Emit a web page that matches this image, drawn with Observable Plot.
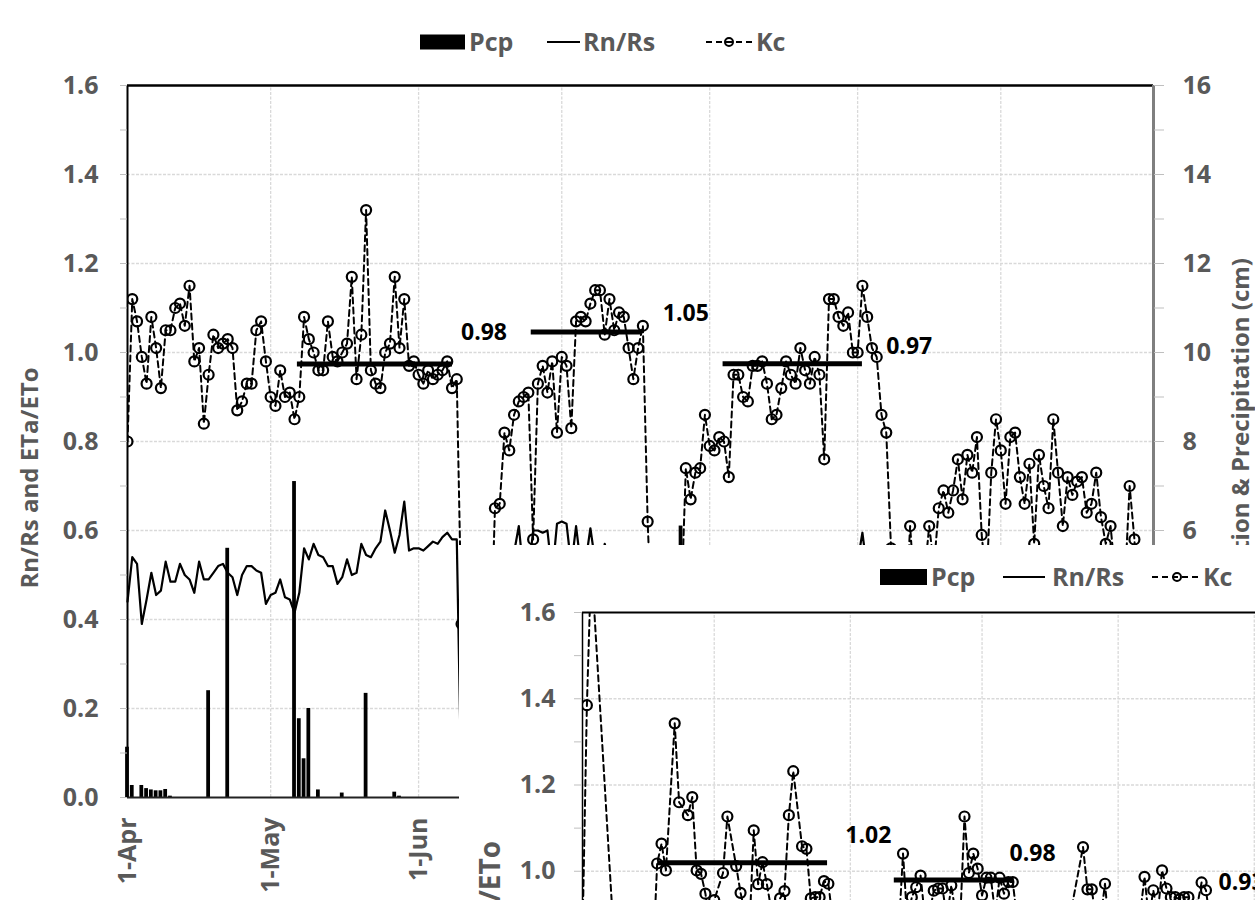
<!DOCTYPE html>
<html>
<head>
<meta charset="utf-8">
<script src="https://cdn.jsdelivr.net/npm/d3@7"></script>
<script src="https://cdn.jsdelivr.net/npm/@observablehq/plot@0.6"></script>
<style>
html, body { margin: 0; padding: 0; background: #fff; overflow: hidden; }
#wrap { position: relative; width: 1255px; height: 900px; overflow: hidden; font-family: "Open Sans", sans-serif; }
#main { position: absolute; left: 0; top: 0; }
#ovMain { position: absolute; left: 0; top: 0; pointer-events: none; }
#inset { position: absolute; left: 459px; top: 545px; width: 796px; height: 355px; background: #fff; overflow: hidden; }
#insetPlot { position: absolute; left: 0; top: 0; width: 1167px; }
#ovInset { position: absolute; left: 0; top: 0; pointer-events: none; }
svg { max-width: none !important; }
</style>
</head>
<body>
<div id="wrap">
  <div id="main"></div>
  <svg id="ovMain" width="1255" height="900"></svg>
  <div id="inset">
    <div id="insetPlot"></div>
    <svg id="ovInset" width="796" height="355"></svg>
  </div>
</div>
<script>
// ---------------- DATA (main chart, daily from 1-Apr) ----------------
const kcApr = [0.80,1.12,1.07,0.99,0.93,1.08,1.01,0.92,1.05,1.05,1.10,1.11,1.06,1.15,0.98,1.01,0.84,0.95,1.04,1.01,1.02,1.03,1.01,0.87,0.89,0.93,0.93,1.05,1.07,0.98];
const kcMay = [0.90,0.88,0.96,0.90,0.91,0.85,0.90,1.08,1.03,1.00,0.96,0.96,1.07,0.99,0.98,1.00,1.02,1.17,0.94,1.04,1.32,0.96,0.93,0.92,1.00,1.02,1.17,1.01,1.12,0.97,0.98];
const kcJun = [0.95,0.93,0.96,0.94,0.95,0.96,0.98,0.92,0.94,0.39,0.28,0.22,0.31,0.25,0.36,0.30,0.65,0.66,0.82,0.78,0.86,0.89,0.90,0.91,0.58,0.93,0.97,0.91,0.98,0.82];
const kcJul = [0.99,0.97,0.83,1.07,1.08,1.07,1.11,1.14,1.14,1.04,1.12,1.05,1.09,1.08,1.01,0.94,1.01,1.06,0.62,0.35,0.28,0.40,0.32,0.25,0.30,0.42,0.74,0.67,0.73,0.74,0.86];
const kcAug = [0.79,0.78,0.81,0.80,0.72,0.95,0.95,0.90,0.89,0.97,0.97,0.98,0.93,0.85,0.86,0.92,0.98,0.95,0.93,1.01,0.96,0.93,0.99,0.95,0.76,1.12,1.12,1.08,1.06,1.09,1.00];
const kcSep = [1.00,1.15,1.08,1.01,0.99,0.86,0.82,0.56,0.30,0.25,0.40,0.61,0.45,0.38,0.50,0.61,0.52,0.65,0.69,0.64,0.69,0.76,0.67,0.77,0.73,0.81,0.59,0.48,0.73,0.85];
const kcOct = [0.78,0.66,0.81,0.82,0.72,0.66,0.75,0.57,0.77,0.70,0.65,0.85,0.73,0.61,0.72,0.68,0.71,0.72,0.64,0.66,0.73,0.63,0.57,0.61,0.50,0.42,0.48,0.70,0.58,0.40,0.35];

const rnApr = [0.44,0.54,0.525,0.39,0.445,0.505,0.455,0.465,0.53,0.485,0.485,0.525,0.50,0.49,0.46,0.53,0.49,0.49,0.505,0.52,0.525,0.505,0.495,0.455,0.50,0.52,0.52,0.51,0.505,0.435];
const rnMay = [0.455,0.46,0.49,0.45,0.445,0.415,0.46,0.56,0.535,0.57,0.545,0.54,0.52,0.52,0.48,0.495,0.535,0.50,0.505,0.57,0.545,0.54,0.56,0.575,0.645,0.60,0.55,0.59,0.665,0.555,0.56];
const rnJun = [0.56,0.555,0.565,0.575,0.57,0.585,0.595,0.58,0.58,0,0,0,0,0,0,0.45,0.48,0.50,0.52,0.54,0.55,0.61,0.50,0.50,0.60,0.60,0.595,0.60,0.50,0.615];
const rnJul = [0.62,0.615,0.52,0.61,0.52,0.53,0.605,0.53,0.50,0.57,0.53,0.52,0.565,0.54,0.52,0.50,0.53,0.52,0.50,0,0,0,0,0,0,0.48,0.50,0.52,0.47,0.50,0.53];
const rnAug = [0.49,0.51,0.54,0.50,0.52,0.55,0.51,0.48,0.52,0.54,0.50,0.53,0.51,0.49,0.52,0.55,0.53,0.50,0.52,0.54,0.51,0.53,0.55,0.47,0.52,0.54,0.51,0.53,0.55,0.52,0.50];
const rnSep = [0.53,0.595,0.51,0.54,0.50,0.48,0.46,0.44,0,0,0,0.46,0.44,0.48,0.45,0.47,0.43,0.46,0.49,0.45,0.44,0.47,0.42,0.45,0.48,0.44,0.46,0.43,0.47,0.45];
const rnOct = [0.41,0.44,0.46,0.43,0.45,0.40,0.44,0.42,0.46,0.43,0.41,0.44,0.40,0.43,0.45,0.41,0.39,0.42,0.44,0.40,0.38,0.42,0.39,0.41,0.37,0.40,0.38,0.36,0.39,0.37,0];

// precipitation (cm), day offset from 1-Apr
const pcpDay = [0,1,3,4,5,6,7,8,9,17,21,35,36,37,38,40,45,50,56,57,116];
const pcpCm  = [1.13,0.27,0.27,0.20,0.17,0.15,0.15,0.18,0.03,2.4,5.6,7.1,1.77,0.87,2.0,0.17,0.10,2.34,0.12,0.03,6.1];

// seasonal mean Kc segments (main)
const meanStart = [35.5, 84.5, 124.7];
const meanEnd   = [68, 107.8, 153.9];
const meanVal   = [0.974, 1.046, 0.975];
const meanLabel = ["0.98", "1.05", "0.97"];
const meanLabelDay = [74.7, 117, 163.8];
const meanLabelVal = [1.045, 1.088, 1.013];

const yTicks = [0, 0.2, 0.4, 0.6, 0.8, 1.0, 1.2, 1.4, 1.6];
const yMinor = [0.1, 0.3, 0.5, 0.7, 0.9, 1.1, 1.3, 1.5];
const rightTicks = [0.6, 0.8, 1.0, 1.2, 1.4, 1.6];
const monthStarts = ["2014-04-01","2014-05-01","2014-06-01","2014-07-01","2014-08-01","2014-09-01","2014-10-01"];

// ---------------- DATA (inset chart) ----------------
const insetKcDay = [0,1,2,8,12,16,17,18,19,21,22,24,25,26,27,28,29,30,32,33,35,36,38,39,40,41,42,44,45,46,47,48,50,51,52,53,54,55,56,58,63,68,72,
  73,74,75,76,77,78,79,80,81,82,83,84,85,86,87,88,89,90,91,92,93,94,95,96,97,98,100,105,110,
  114,115,116,117,118,119,120,123,126,127,128,129,130,131,132,133,134,135,136,137,138,139,140,141,142,143,145];
const insetKcVal = [0.85,1.385,1.72,0.70,0.55,0.78,1.018,1.064,1.002,1.343,1.16,1.13,1.172,1.002,0.994,0.948,0.88,0.933,0.996,1.127,1.012,0.95,0.86,1.095,0.97,1.021,0.97,0.85,0.937,0.954,1.13,1.232,1.058,1.052,0.937,0.94,0.94,0.977,0.971,0.80,0.70,0.82,0.86,
  1.041,0.88,0.94,0.963,0.99,0.89,0.90,0.955,0.96,0.96,0.89,0.967,0.90,0.88,1.127,0.996,1.041,1.006,0.944,0.985,0.985,0.90,0.985,0.948,0.975,0.975,0.80,0.72,0.84,
  1.056,0.958,0.958,0.88,0.89,0.971,0.86,0.82,0.88,0.90,0.987,0.89,0.956,0.90,1.002,0.96,0.94,0.94,0.935,0.94,0.94,0.90,0.92,0.974,0.956,0.88,0.85];
const insetMeanStart = [17, 70.9, 113];
const insetMeanEnd   = [55.7, 98.2, 145];
const insetMeanVal   = [1.02, 0.98, 0.92];
const insetLabel     = ["1.02", "0.98", "0.93"];
const insetLabelDay  = [65.1, 102.5, 150.1];
const insetLabelVal  = [1.083, 1.042, 0.974];
const insetYTicks = [1.0, 1.2, 1.4, 1.6];

// ---------------- build ----------------
const startUTC = Date.UTC(2014, 3, 1);
const toDate = d => new Date(startUTC + d * 864e5);
const fmtMonth = d3.utcFormat("%-d-%b");

const kcAll = [...kcApr, ...kcMay, ...kcJun, ...kcJul, ...kcAug, ...kcSep, ...kcOct];
const rnAll = [...rnApr, ...rnMay, ...rnJun, ...rnJul, ...rnAug, ...rnSep, ...rnOct];
const kcData = kcAll.map((v, i) => ({date: toDate(i), v}));
const rnData = rnAll.map((v, i) => ({date: toDate(i), v}));
const pcpData = pcpDay.map((d, i) => ({d, cm: pcpCm[i]}));
const meanData = meanStart.map((s, i) => ({x1: toDate(s), x2: toDate(meanEnd[i]), v: meanVal[i]}));
const labelData = meanLabel.map((t, i) => ({x: toDate(meanLabelDay[i]), y: meanLabelVal[i], t}));
const months = monthStarts.map(s => new Date(s));

const gridStyle = {stroke: "#d9d9d9", strokeWidth: 1.3, strokeDasharray: "3,1.5"};
const baseStyle = {fontFamily: "Open Sans, sans-serif", fontSize: "25px", fontWeight: "700", color: "#595959", background: "#fff", maxWidth: "none"};

const main = Plot.plot({
  width: 1255, height: 900,
  marginTop: 85, marginBottom: 103, marginLeft: 127, marginRight: 102,
  style: baseStyle,
  x: {type: "utc", domain: [toDate(0), toDate(215)]},
  y: {domain: [0, 1.6]},
  marks: [
    Plot.ruleY(yTicks.filter(t => t > 0 && t < 1.6), gridStyle),
    Plot.ruleX(months.slice(1), {...gridStyle, y1: 0, y2: 1.6}),
    Plot.rect(pcpData, {x1: d => toDate(d.d - 0.5), x2: d => toDate(d.d + 0.5), y1: 0, y2: d => d.cm / 10, fill: "black", insetLeft: 0.5, insetRight: 0.5}),
    Plot.line(rnData, {x: "date", y: "v", stroke: "black", strokeWidth: 2.2}),
    Plot.line(kcData, {x: "date", y: "v", stroke: "black", strokeWidth: 2, strokeDasharray: "6,4", clip: true}),
    Plot.dot(kcData, {x: "date", y: "v", r: 5, stroke: "black", strokeWidth: 2.2, fill: "none", clip: true}),
    Plot.link(meanData, {x1: "x1", x2: "x2", y1: "v", y2: "v", stroke: "black", strokeWidth: 5}),
    Plot.text(labelData, {x: "x", y: "y", text: "t", fill: "black", fontSize: 23, fontWeight: 700}),
    Plot.ruleY([1.6], {stroke: "black", strokeWidth: 2.5}),
    Plot.ruleY([0], {stroke: "#222", strokeWidth: 2}),
    Plot.ruleX([toDate(0)], {stroke: "black", strokeWidth: 2, y1: 0, y2: 1.6}),
    Plot.ruleX([toDate(215)], {stroke: "#7f7f7f", strokeWidth: 3, y1: 0, y2: 1.6}),
    Plot.axisY({anchor: "left", ticks: yTicks, tickFormat: d3.format(".1f"), tickSize: 7, tickPadding: 22, stroke: "#bfbfbf", label: null}),
    Plot.axisY({anchor: "left", ticks: yMinor, tickFormat: () => "", tickSize: 7, stroke: "#bfbfbf", label: null}),
    Plot.axisY({anchor: "right", ticks: rightTicks, tickFormat: d => d3.format("d")(Math.round(d * 10)), tickSize: 10, tickPadding: 19, stroke: "#bfbfbf", label: null}),
    Plot.axisY({anchor: "right", ticks: yMinor.filter(t => t > 0.5), tickFormat: () => "", tickSize: 10, stroke: "#bfbfbf", label: null}),
    Plot.axisX({ticks: months.slice(0, 3), tickFormat: fmtMonth, tickRotate: -90, tickSize: 0, tickPadding: 20, label: null})
  ]
});
document.getElementById("main").appendChild(main);

// ---- inset ----
const insetKc = insetKcDay.map((d, i) => ({date: toDate(d), v: insetKcVal[i]}));
const insetMeans = insetMeanStart.map((s, i) => ({x1: toDate(s), x2: toDate(insetMeanEnd[i]), v: insetMeanVal[i]}));
const insetLabels = insetLabel.map((t, i) => ({x: toDate(insetLabelDay[i]), y: insetLabelVal[i], t}));

const inset = Plot.plot({
  width: 1167, height: 820,
  marginTop: 67, marginBottom: 63, marginLeft: 123, marginRight: 100,
  style: baseStyle,
  x: {type: "utc", domain: [toDate(0), toDate(215)]},
  y: {domain: [0, 1.6]},
  marks: [
    Plot.ruleY(yTicks.filter(t => t > 0 && t < 1.6), gridStyle),
    Plot.ruleX(months.slice(1), {...gridStyle, y1: 0, y2: 1.6}),
    Plot.line(insetKc, {x: "date", y: "v", stroke: "black", strokeWidth: 2, strokeDasharray: "6,4", clip: true}),
    Plot.dot(insetKc, {x: "date", y: "v", r: 5, stroke: "black", strokeWidth: 2.2, fill: "none", clip: true}),
    Plot.link(insetMeans, {x1: "x1", x2: "x2", y1: "v", y2: "v", stroke: "black", strokeWidth: 5}),
    Plot.text(insetLabels, {x: "x", y: "y", text: "t", fill: "black", fontSize: 23, fontWeight: 700}),
    Plot.ruleY([1.6], {stroke: "black", strokeWidth: 2.2}),
    Plot.ruleX([toDate(0)], {stroke: "black", strokeWidth: 1.5, y1: 0, y2: 1.6}),
    Plot.axisY({anchor: "left", ticks: insetYTicks, tickFormat: d3.format(".1f"), tickSize: 8, tickPadding: 19, stroke: "#bfbfbf", label: null}),
    Plot.axisY({anchor: "left", ticks: yMinor.filter(t => t > 0.9), tickFormat: () => "", tickSize: 8, stroke: "#bfbfbf", label: null})
  ]
});
document.getElementById("insetPlot").appendChild(inset);

// ---- overlays: legends and axis titles ----
function drawLegend(svg, o) {
  const g = svg.append("g").attr("font-family", "Open Sans, sans-serif").attr("font-weight", 700)
    .attr("font-size", o.fs).attr("fill", "#595959");
  g.append("rect").attr("x", o.rect[0]).attr("y", o.cy - o.rect[2] / 2).attr("width", o.rect[1] - o.rect[0]).attr("height", o.rect[2]).attr("fill", "black");
  g.append("text").attr("x", o.pcpX).attr("y", o.cy).attr("dy", "0.36em").text("Pcp");
  g.append("line").attr("x1", o.line[0]).attr("x2", o.line[1]).attr("y1", o.cy).attr("y2", o.cy).attr("stroke", "black").attr("stroke-width", 2.2);
  g.append("text").attr("x", o.rnX).attr("y", o.cy).attr("dy", "0.36em").text("Rn/Rs");
  g.append("line").attr("x1", o.kc[0]).attr("x2", o.kc[1]).attr("y1", o.cy).attr("y2", o.cy).attr("stroke", "black").attr("stroke-width", 2).attr("stroke-dasharray", "6,4");
  g.append("circle").attr("cx", o.kc[2]).attr("cy", o.cy).attr("r", 4).attr("fill", "none").attr("stroke", "black").attr("stroke-width", 2);
  g.append("text").attr("x", o.kcX).attr("y", o.cy).attr("dy", "0.36em").text("Kc");
}

const ovMain = d3.select("#ovMain");
drawLegend(ovMain, {cy: 42, fs: 25, rect: [420, 465, 15], pcpX: 469, line: [547, 580], rnX: 583, kc: [706, 752, 729], kcX: 756});
ovMain.append("text").attr("transform", "translate(38,478) rotate(-90)").attr("text-anchor", "middle")
  .attr("font-family", "Open Sans, sans-serif").attr("font-weight", 700).attr("font-size", 24).attr("fill", "#595959")
  .text("Rn/Rs and ETa/ETo");
ovMain.append("text").attr("transform", "translate(1249,258) rotate(-90)").attr("text-anchor", "end")
  .attr("font-family", "Open Sans, sans-serif").attr("font-weight", 700).attr("font-size", 24).attr("fill", "#595959")
  .text("Irrigation & Precipitation (cm)");

const ovInset = d3.select("#ovInset");
drawLegend(ovInset, {cy: 32, fs: 25, rect: [421, 468, 16], pcpX: 472, line: [544, 586], rnX: 593, kc: [693, 741, 718], kcX: 744});
ovInset.append("text").attr("transform", "translate(41,296) rotate(-90)").attr("text-anchor", "end")
  .attr("font-family", "Open Sans, sans-serif").attr("font-weight", 700).attr("font-size", 28).attr("fill", "#595959")
  .text("Rn/Rs and ETa/ETo");
</script>
</body>
</html>
